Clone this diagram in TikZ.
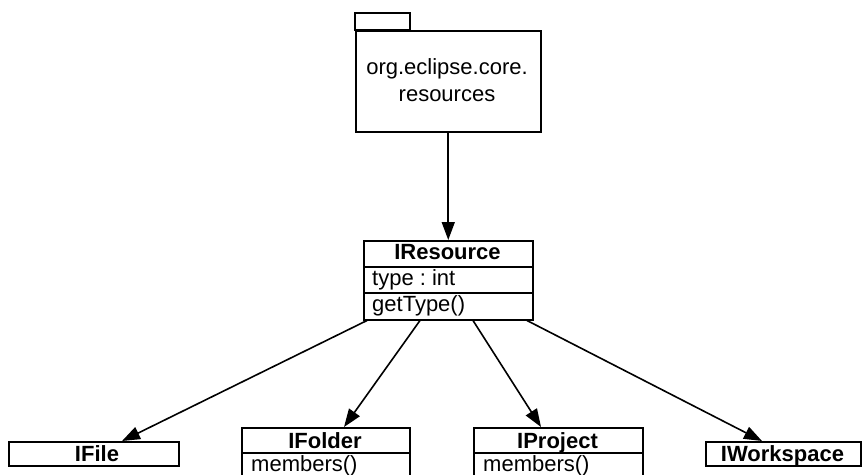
\documentclass[tikz,border=0pt]{standalone}
\usepackage{fontspec}
\setmainfont{Liberation Sans}
\usetikzlibrary{arrows.meta,calc}
\frenchspacing

\tikzset{
  uml/.style={draw, line width=1.5pt, inner sep=0pt, anchor=north west},
  sep/.style={line width=1.5pt},
  lbl/.style={inner sep=0pt, font=\fontsize{22}{27}\selectfont},
  hdr/.style={inner sep=0pt, anchor=base, font=\fontsize{22}{27}\selectfont\bfseries},
  mem/.style={inner sep=0pt, anchor=base west, font=\fontsize{22}{27}\selectfont},
  gen/.style={line width=1.6pt, -{Triangle[length=18pt,width=13pt]}},
}

\begin{document}
\begin{tikzpicture}[x=1pt,y=-1pt]
  \clip (0,0) rectangle (864,474);

  % package org.eclipse.core.resources
  \draw[sep] (355,13) rectangle (410,30);
  \node[uml, minimum width=185pt, minimum height=101pt] (pkg) at (355,30) {};
  \node[lbl, align=center] (pkgname) at (447,80) {org.eclipse.core.\\resources};

  % IResource with two compartments
  \node[uml, minimum width=169pt, minimum height=79pt] (res) at (363,240) {};
  \draw[sep] (res.west |- 0,267) -- (res.east |- 0,267);
  \draw[sep] (res.west |- 0,293) -- (res.east |- 0,293);
  \node[hdr] (resname) at (447.5,259) {IResource};
  \node[mem] (restype) at (372,285) {type : int};
  \node[mem] (resop) at (372,311) {getType()};

  % subtypes
  \node[uml, minimum width=170pt, minimum height=24pt] (ifile) at (8,441) {};
  \node[hdr] (ifilename) at (97,461) {IFile};

  \node[uml, minimum width=168pt, minimum height=60pt] (ifolder) at (241,427) {};
  \draw[sep] (ifolder.west |- 0,453) -- (ifolder.east |- 0,453);
  \node[hdr] (ifoldername) at (325,448) {IFolder};
  \node[mem] (ifolderop) at (251,471) {members()};

  \node[uml, minimum width=169pt, minimum height=60pt] (iproject) at (473,427) {};
  \draw[sep] (iproject.west |- 0,453) -- (iproject.east |- 0,453);
  \node[hdr] (iprojectname) at (557.5,448) {IProject};
  \node[mem] (iprojectop) at (483,471) {members()};

  \node[uml, minimum width=155pt, minimum height=24pt] (iws) at (705,441) {};
  \node[hdr] (iwsname) at (782.5,461) {IWorkspace};

  % dependencies
  \draw[gen] (pkg.south) -- (res.north);
  \draw[gen] ($(res.south west)+(4,0)$)   -- ($(ifile.north west)+(114,0)$);
  \draw[gen] ($(res.south west)+(57,0)$)  -- ($(ifolder.north west)+(103,0)$);
  \draw[gen] ($(res.south west)+(110,0)$) -- ($(iproject.north west)+(68,0)$);
  \draw[gen] ($(res.south west)+(164,0)$) -- ($(iws.north west)+(57,0)$);
\end{tikzpicture}
\end{document}
